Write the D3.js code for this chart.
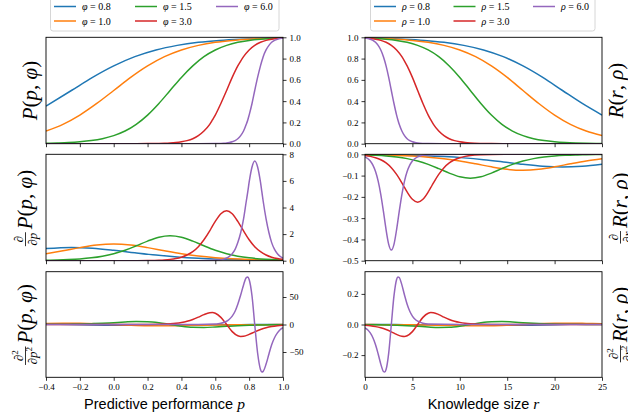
<!DOCTYPE html>
<html>
<head>
<meta charset="utf-8">
<script src="https://d3js.org/d3.v7.min.js"></script>
<style>
  body { margin: 0; background: #fff; }
  svg text { font-family: "Liberation Serif", "DejaVu Serif", serif; }
</style>
</head>
<body>
<div id="chart"></div>
<script>
// ---- series labels ----
const phiLabels = ["0.8", "1.0", "1.5", "3.0", "6.0"];
const rhoLabels = ["0.8", "1.0", "1.5", "3.0", "6.0"];
const colors = ["#1f77b4", "#ff7f0e", "#2ca02c", "#d62728", "#9467bd"];

// ---- left column: predictive performance p ----
// phi = 0.8
const pPhi08 = [-0.4, -0.25, -0.125, 0, 0.125, 0.25, 0.375, 0.5, 0.625, 0.75, 0.875, 1.0];
const P_phi08 = [0.354, 0.5, 0.623, 0.731, 0.818, 0.881, 0.924, 0.953, 0.971, 0.982, 0.989, 0.993];
const dP_phi08 = [0.915, 1.0, 0.94, 0.786, 0.597, 0.42, 0.28, 0.181, 0.114, 0.071, 0.044, 0.027];
const d2P_phi08 = [1.066, 0, -0.921, -1.454, -1.516, -1.279, -0.952, -0.654, -0.428, -0.272, -0.170, -0.105];
// phi = 1.0
const pPhi10 = [-0.4, -0.3, -0.2, -0.1, 0, 0.1, 0.2, 0.3, 0.4, 0.5, 0.6, 0.7, 0.8, 0.9, 1.0];
const P_phi10 = [0.119, 0.182, 0.269, 0.378, 0.5, 0.623, 0.731, 0.818, 0.881, 0.924, 0.953, 0.971, 0.982, 0.989, 0.993];
const dP_phi10 = [0.525, 0.746, 0.983, 1.175, 1.25, 1.175, 0.983, 0.746, 0.525, 0.351, 0.226, 0.142, 0.088, 0.054, 0.033];
const d2P_phi10 = [2.0, 2.37, 2.27, 1.44, 0, -1.44, -2.27, -2.37, -2.0, -1.49, -1.02, -0.67, -0.43, -0.27, -0.16];
// phi = 1.5
const pPhi15 = [-0.4, -0.333, -0.267, -0.2, -0.133, -0.067, 0, 0.067, 0.133, 0.2, 0.267, 0.333, 0.4, 0.467, 0.533, 0.6, 0.667, 0.733, 0.8, 0.867, 0.933, 1.0];
const P_phi15 = [0.004, 0.007, 0.011, 0.018, 0.029, 0.047, 0.076, 0.119, 0.182, 0.269, 0.378, 0.5, 0.623, 0.731, 0.818, 0.881, 0.924, 0.953, 0.971, 0.982, 0.989, 0.993];
const dP_phi15 = [0.030, 0.050, 0.082, 0.132, 0.213, 0.339, 0.526, 0.787, 1.119, 1.475, 1.763, 1.875, 1.763, 1.475, 1.119, 0.787, 0.526, 0.339, 0.213, 0.132, 0.082, 0.050];
const d2P_phi15 = [0.23, 0.37, 0.60, 0.96, 1.51, 2.30, 3.35, 4.50, 5.33, 5.11, 3.24, 0, -3.24, -5.11, -5.33, -4.50, -3.35, -2.30, -1.51, -0.96, -0.60, -0.37];
// phi = 3.0
const pPhi30 = [-0.4, 0, 0.133, 0.2, 0.267, 0.3, 0.333, 0.367, 0.4, 0.433, 0.467, 0.5, 0.533, 0.567, 0.583, 0.6, 0.633, 0.667, 0.7, 0.733, 0.75, 0.767, 0.8, 0.833, 0.867, 0.9, 0.933, 0.967, 1.0];
const P_phi30 = [0, 0, 0.0003, 0.0009, 0.0025, 0.0041, 0.0067, 0.011, 0.018, 0.029, 0.047, 0.076, 0.119, 0.182, 0.223, 0.269, 0.378, 0.5, 0.623, 0.731, 0.777, 0.818, 0.881, 0.924, 0.953, 0.971, 0.982, 0.989, 0.993];
const dP_phi30 = [0, 0.0007, 0.005, 0.014, 0.037, 0.061, 0.10, 0.163, 0.265, 0.427, 0.678, 1.05, 1.575, 2.24, 2.60, 2.95, 3.525, 3.75, 3.525, 2.95, 2.60, 2.24, 1.575, 1.05, 0.678, 0.427, 0.265, 0.163, 0.10];
const d2P_phi30 = [0, 0.01, 0.075, 0.2, 0.55, 0.9, 1.48, 2.39, 3.83, 6.03, 9.2, 13.38, 17.99, 21.31, 21.6, 20.44, 12.95, 0, -12.95, -20.44, -21.6, -21.31, -17.99, -13.38, -9.2, -6.03, -3.83, -2.39, -1.48];
// phi = 6.0
const pPhi60 = [-0.4, 0.5, 0.6, 0.617, 0.633, 0.65, 0.667, 0.683, 0.7, 0.717, 0.733, 0.75, 0.767, 0.783, 0.792, 0.8, 0.817, 0.833, 0.85, 0.867, 0.875, 0.883, 0.9, 0.917, 0.933, 0.95, 0.967, 0.983, 1.0];
const P_phi60 = [0, 0, 0.0009, 0.0015, 0.0025, 0.0041, 0.0067, 0.011, 0.018, 0.029, 0.047, 0.076, 0.119, 0.182, 0.223, 0.269, 0.378, 0.5, 0.623, 0.731, 0.777, 0.818, 0.881, 0.924, 0.953, 0.971, 0.982, 0.989, 0.993];
const dP_phi60 = [0, 0, 0.027, 0.045, 0.074, 0.12, 0.20, 0.33, 0.53, 0.85, 1.36, 2.10, 3.15, 4.47, 5.19, 5.90, 7.05, 7.5, 7.05, 5.90, 5.19, 4.47, 3.15, 2.10, 1.36, 0.85, 0.53, 0.33, 0.20];
const d2P_phi60 = [0, 0, 0.8, 1.35, 2.2, 3.6, 5.9, 9.6, 15.3, 24.1, 36.8, 53.5, 72.0, 85.2, 86.4, 81.8, 51.8, 0, -51.8, -81.8, -86.4, -85.2, -72.0, -53.5, -36.8, -24.1, -15.3, -9.6, -5.9];

// ---- right column: knowledge size r ----
// rho = 0.8
const rRho08 = [0, 2.083, 4.167, 6.25, 8.333, 10.417, 12.5, 14.583, 16.667, 18.75, 20.833, 22.917, 25];
const R_rho08 = [0.993, 0.989, 0.982, 0.971, 0.953, 0.924, 0.881, 0.818, 0.731, 0.623, 0.5, 0.378, 0.269];
const dR_rho08 = [-0.0016, -0.0026, -0.0042, -0.0068, -0.0108, -0.0168, -0.0252, -0.0358, -0.0472, -0.0564, -0.06, -0.0564, -0.0472];
const d2R_rho08 = [-0.0004, -0.0006, -0.001, -0.0015, -0.0024, -0.0034, -0.0046, -0.0055, -0.0052, -0.0033, 0, 0.0033, 0.0052];
// rho = 1.0
const rRho10 = [0, 1.667, 3.333, 5.0, 6.667, 8.333, 10.0, 11.667, 13.333, 15.0, 16.667, 18.333, 20.0, 21.667, 23.333, 25];
const R_rho10 = [0.993, 0.989, 0.982, 0.971, 0.953, 0.924, 0.881, 0.818, 0.731, 0.623, 0.5, 0.378, 0.269, 0.182, 0.119, 0.076];
const dR_rho10 = [-0.002, -0.0033, -0.0053, -0.0085, -0.0136, -0.021, -0.0315, -0.0447, -0.059, -0.0705, -0.075, -0.0705, -0.059, -0.0447, -0.0315, -0.021];
const d2R_rho10 = [-0.0006, -0.001, -0.0015, -0.0024, -0.0037, -0.0054, -0.0072, -0.0085, -0.0082, -0.0052, 0, 0.0052, 0.0082, 0.0085, 0.0072, 0.0054];
// rho = 1.5
const rRho15 = [0, 1.111, 2.222, 3.333, 4.444, 5.556, 6.667, 7.778, 8.889, 10.0, 11.111, 12.222, 13.333, 14.444, 15.556, 16.667, 17.778, 18.889, 20.0, 21.111, 22.222, 23.333, 25];
const R_rho15 = [0.993, 0.989, 0.982, 0.971, 0.953, 0.924, 0.881, 0.818, 0.731, 0.623, 0.5, 0.378, 0.269, 0.182, 0.119, 0.076, 0.047, 0.029, 0.018, 0.011, 0.0067, 0.0041, 0.0019];
const dR_rho15 = [-0.003, -0.0049, -0.0079, -0.0128, -0.0203, -0.0315, -0.0472, -0.0671, -0.0885, -0.1058, -0.1125, -0.1058, -0.0885, -0.0671, -0.0472, -0.0315, -0.0203, -0.0128, -0.0079, -0.0049, -0.003, -0.0018, -0.0009];
const d2R_rho15 = [-0.0013, -0.0022, -0.0034, -0.0054, -0.0083, -0.012, -0.0162, -0.0192, -0.0184, -0.0117, 0, 0.0117, 0.0184, 0.0192, 0.0162, 0.012, 0.0083, 0.0054, 0.0034, 0.0022, 0.0013, 0.0008, 0.0004];
// rho = 3.0
const rRho30 = [0, 0.556, 1.111, 1.667, 2.222, 2.778, 3.333, 3.889, 4.167, 4.444, 5.0, 5.556, 6.111, 6.667, 6.944, 7.222, 7.778, 8.333, 8.889, 9.444, 10.0, 10.556, 11.111, 12.222, 13.333, 15.556, 25];
const R_rho30 = [0.993, 0.989, 0.982, 0.971, 0.953, 0.924, 0.881, 0.818, 0.777, 0.731, 0.623, 0.5, 0.378, 0.269, 0.223, 0.182, 0.119, 0.076, 0.047, 0.029, 0.018, 0.011, 0.0067, 0.0025, 0.0009, 0.0001, 0];
const dR_rho30 = [-0.006, -0.0098, -0.0159, -0.0256, -0.0407, -0.0631, -0.0945, -0.1342, -0.1558, -0.1769, -0.2115, -0.225, -0.2115, -0.1769, -0.1558, -0.1342, -0.0945, -0.0631, -0.0407, -0.0256, -0.0159, -0.0098, -0.006, -0.0022, -0.0008, -0.0001, 0];
const d2R_rho30 = [-0.0053, -0.0086, -0.0138, -0.0217, -0.0331, -0.0482, -0.0648, -0.0767, -0.0778, -0.0736, -0.0466, 0, 0.0466, 0.0736, 0.0778, 0.0767, 0.0648, 0.0482, 0.0331, 0.0217, 0.0138, 0.0086, 0.0053, 0.002, 0.0007, 0.0001, 0];
// rho = 6.0
const rRho60 = [0, 0.278, 0.556, 0.833, 1.111, 1.389, 1.667, 1.944, 2.083, 2.222, 2.5, 2.778, 3.056, 3.333, 3.472, 3.611, 3.889, 4.167, 4.444, 4.722, 5.0, 5.278, 5.556, 6.111, 6.667, 10, 25];
const R_rho60 = [0.993, 0.989, 0.982, 0.971, 0.953, 0.924, 0.881, 0.818, 0.777, 0.731, 0.623, 0.5, 0.378, 0.269, 0.223, 0.182, 0.119, 0.076, 0.047, 0.029, 0.018, 0.011, 0.0067, 0.0025, 0.0009, 0, 0];
const dR_rho60 = [-0.012, -0.0196, -0.0318, -0.0512, -0.0813, -0.1262, -0.189, -0.2685, -0.3116, -0.3539, -0.423, -0.45, -0.423, -0.3539, -0.3116, -0.2685, -0.189, -0.1262, -0.0813, -0.0512, -0.0318, -0.0196, -0.012, -0.0044, -0.0016, 0, 0];
const d2R_rho60 = [-0.0213, -0.0345, -0.0551, -0.0868, -0.1325, -0.1927, -0.2591, -0.3069, -0.311, -0.2944, -0.1865, 0, 0.1865, 0.2944, 0.311, 0.3069, 0.2591, 0.1927, 0.1325, 0.0868, 0.0551, 0.0345, 0.0213, 0.0079, 0.0029, 0, 0];

// ---- ticks ----
const pTicks = [-0.4, -0.2, 0.0, 0.2, 0.4, 0.6, 0.8, 1.0];
const rTicks = [0, 5, 10, 15, 20, 25];
const unitTicks = [0, 0.2, 0.4, 0.6, 0.8, 1.0];
const dPTicks = [0, 2, 4, 6, 8];
const d2PTicks = [-50, 0, 50];
const dRTicks = [0, -0.1, -0.2, -0.3, -0.4, -0.5];
const d2RTicks = [-0.2, 0, 0.2];

// ---- layout ----
const width = 628, height = 419;
const rows = [[37.3, 143.7], [154.3, 260.7], [271.7, 377.3]];
const black = "#000";

const svg = d3.select("#chart").append("svg")
    .attr("width", width)
    .attr("height", height);

const xP = d3.scaleLinear().domain([-0.4, 1.0]).range([46, 283]);
const xR = d3.scaleLinear().domain([0, 25]).range([365, 602]);

const pXs = [pPhi08, pPhi10, pPhi15, pPhi30, pPhi60];
const rXs = [rRho08, rRho10, rRho15, rRho30, rRho60];

const panels = [
    { id: "a", x: xP, xs: pXs, row: 0, ys: [P_phi08, P_phi10, P_phi15, P_phi30, P_phi60], dom: [0, 1], ticks: unitTicks, fmt: ".1f", side: "right" },
    { id: "b", x: xP, xs: pXs, row: 1, ys: [dP_phi08, dP_phi10, dP_phi15, dP_phi30, dP_phi60], dom: [0, 8], ticks: dPTicks, fmt: "d", side: "right" },
    { id: "c", x: xP, xs: pXs, row: 2, ys: [d2P_phi08, d2P_phi10, d2P_phi15, d2P_phi30, d2P_phi60], dom: [-96, 96], ticks: d2PTicks, fmt: "d", side: "right" },
    { id: "d", x: xR, xs: rXs, row: 0, ys: [R_rho08, R_rho10, R_rho15, R_rho30, R_rho60], dom: [0, 1], ticks: unitTicks, fmt: ".1f", side: "left" },
    { id: "e", x: xR, xs: rXs, row: 1, ys: [dR_rho08, dR_rho10, dR_rho15, dR_rho30, dR_rho60], dom: [-0.5, 0], ticks: dRTicks, fmt: ".1f", side: "left" },
    { id: "f", x: xR, xs: rXs, row: 2, ys: [d2R_rho08, d2R_rho10, d2R_rho15, d2R_rho30, d2R_rho60], dom: [-0.345, 0.345], ticks: d2RTicks, fmt: ".1f", side: "left" }
];

function styleAxis(g) {
    g.select(".domain").remove();
    g.selectAll(".tick line").attr("stroke", black).attr("stroke-width", 0.8);
    g.selectAll(".tick text")
        .attr("fill", black)
        .style("font-family", "'Liberation Serif', serif")
        .style("font-size", "9px");
}

panels.forEach(pn => {
    const [y0, y1] = rows[pn.row];
    const [x0, x1] = pn.x.range();
    const y = d3.scaleLinear().domain(pn.dom).range([y1, y0]);

    svg.append("clipPath").attr("id", "clip-" + pn.id)
        .append("rect").attr("x", x0).attr("y", y0)
        .attr("width", x1 - x0).attr("height", y1 - y0);

    const g = svg.append("g").attr("clip-path", `url(#clip-${pn.id})`);
    pn.ys.forEach((vals, k) => {
        const xs = pn.xs[k];
        const line = d3.line()
            .x((d, i) => pn.x(xs[i]))
            .y(d => y(d))
            .curve(d3.curveMonotoneX);
        g.append("path")
            .attr("d", line(vals))
            .attr("fill", "none")
            .attr("stroke", colors[k])
            .attr("stroke-width", 1.5);
    });

    // y axis
    const yAxis = (pn.side === "right" ? d3.axisRight(y) : d3.axisLeft(y))
        .tickValues(pn.ticks)
        .tickSize(3.5).tickPadding(3)
        .tickFormat(d3.format(pn.fmt));
    svg.append("g")
        .attr("transform", `translate(${pn.side === "right" ? x1 : x0},0)`)
        .call(yAxis).call(styleAxis);

    // x axis (labels only on the bottom row)
    const xAxis = d3.axisBottom(pn.x)
        .tickValues(pn.x === xP ? pTicks : rTicks)
        .tickSize(3.5).tickPadding(3)
        .tickFormat(pn.row === 2 ? d3.format(pn.x === xP ? ".1f" : "d") : "");
    svg.append("g")
        .attr("transform", `translate(0,${y1})`)
        .call(xAxis).call(styleAxis);

    // frame
    svg.append("rect")
        .attr("x", x0).attr("y", y0)
        .attr("width", x1 - x0).attr("height", y1 - y0)
        .attr("fill", "none").attr("stroke", black).attr("stroke-width", 0.9);
});

// ---- legends ----
function legend(x0, x1, symbol, labels, colX) {
    const lg = svg.append("g");
    lg.append("rect")
        .attr("x", x0).attr("y", -4)
        .attr("width", x1 - x0).attr("height", 35)
        .attr("rx", 2.5)
        .attr("fill", "#fff").attr("stroke", "#cccccc").attr("stroke-width", 0.8);
    labels.forEach((lab, i) => {
        const cx = colX[Math.floor(i / 2)];
        const cy = i % 2 === 0 ? 6.5 : 21;
        lg.append("line")
            .attr("x1", cx).attr("x2", cx + 22)
            .attr("y1", cy).attr("y2", cy)
            .attr("stroke", colors[i]).attr("stroke-width", 1.5);
        const t = lg.append("text")
            .attr("x", cx + 28).attr("y", cy + 3.5)
            .style("font-size", "10px").attr("fill", black);
        t.append("tspan").style("font-style", "italic").text(symbol);
        t.append("tspan").attr("dx", 2.5).text("=");
        t.append("tspan").attr("dx", 2.5).text(lab);
    });
}
legend(50.5, 279, "φ", phiLabels, [54, 135, 216]);
legend(370.5, 595, "ρ", rhoLabels, [374, 453.5, 533]);

// ---- x labels ----
function xLabel(cx, words, v) {
    const t = svg.append("text")
        .attr("x", cx).attr("y", 408.5)
        .attr("text-anchor", "middle")
        .attr("fill", black);
    t.append("tspan").style("font-family", "'Liberation Sans', Arial, sans-serif")
        .style("font-size", "14.5px").text(words + " ");
    t.append("tspan").style("font-family", "'Liberation Serif', serif")
        .style("font-style", "italic").style("font-size", "15.5px").text(v);
}
xLabel(164.5, "Predictive performance", "p");
xLabel(483.5, "Knowledge size", "r");

// ---- y labels (rotated math) ----
function mathMain(sel, fn, a, b) {
    sel.append("tspan").style("font-style", "italic").text(fn);
    sel.append("tspan").text("(");
    sel.append("tspan").style("font-style", "italic").text(a);
    sel.append("tspan").text(", ");
    sel.append("tspan").style("font-style", "italic").text(b);
    sel.append("tspan").text(")");
}

function yLabel(bx, cy, fn, a, b, order) {
    const g = svg.append("g").attr("transform", `translate(${bx},${cy}) rotate(-90)`);
    const main = g.append("text").attr("y", 0).attr("fill", black).style("font-size", "21px");
    mathMain(main, fn, a, b);
    const w = main.node().getComputedTextLength();
    if (!order) {
        main.attr("x", -w / 2);
        return;
    }
    const num = g.append("text").attr("y", -9).attr("text-anchor", "middle")
        .attr("fill", black).style("font-size", "13px").style("font-style", "italic");
    num.append("tspan").text("∂");
    const den = g.append("text").attr("y", 5).attr("text-anchor", "middle")
        .attr("fill", black).style("font-size", "13px").style("font-style", "italic");
    den.append("tspan").text("∂" + a);
    if (order === 2) {
        num.append("tspan").attr("dy", -5).style("font-size", "9px").style("font-style", "normal").text("2");
        den.append("tspan").attr("dy", -5).style("font-size", "9px").style("font-style", "normal").text("2");
    }
    const wf = Math.max(num.node().getComputedTextLength(), den.node().getComputedTextLength()) + 1;
    const gap = 3;
    const start = -(wf + gap + w) / 2;
    num.attr("x", start + wf / 2);
    den.attr("x", start + wf / 2);
    g.append("line")
        .attr("x1", start).attr("x2", start + wf)
        .attr("y1", -6.5).attr("y2", -6.5)
        .attr("stroke", black).attr("stroke-width", 0.8);
    main.attr("x", start + wf + gap);
}

yLabel(37, 90.5, "P", "p", "φ", 0);
yLabel(32, 208, "P", "p", "φ", 1);
yLabel(32, 324.5, "P", "p", "φ", 2);
yLabel(623, 90.5, "R", "r", "ρ", 0);
yLabel(627, 208, "R", "r", "ρ", 1);
yLabel(627, 324.5, "R", "r", "ρ", 2);
</script>
</body>
</html>
